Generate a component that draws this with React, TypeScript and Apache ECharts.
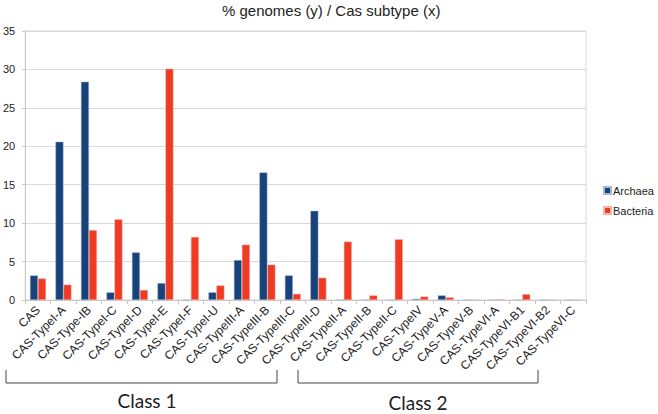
import React, { useEffect, useRef } from "react";
import * as echarts from "echarts";

const categories = [
  "CAS", "CAS-TypeI-A", "CAS-Type-IB", "CAS-TypeI-C", "CAS-TypeI-D", "CAS-TypeI-E",
  "CAS-TypeI-F", "CAS-TypeI-U", "CAS-TypeIII-A", "CAS-TypeIII-B", "CAS-TypeIII-C",
  "CAS-TypeIII-D", "CAS-TypeII-A", "CAS-TypeII-B", "CAS-TypeII-C", "CAS-TypeIV",
  "CAS-TypeV-A", "CAS-TypeV-B", "CAS-TypeVI-A", "CAS-TypeVI-B1", "CAS-TypeVI-B2",
  "CAS-TypeVI-C",
];

const archaea = [3.2, 20.6, 28.4, 1.0, 6.2, 2.2, 0, 1.0, 5.2, 16.6, 3.2, 11.6, 0, 0, 0, 0.15, 0.6, 0, 0, 0, 0, 0];
const bacteria = [2.8, 2.0, 9.1, 10.5, 1.3, 30.1, 8.2, 1.9, 7.2, 4.6, 0.8, 2.9, 7.6, 0.6, 7.9, 0.45, 0.35, 0, 0.1, 0.75, 0, 0];

const yTicks = [0, 5, 10, 15, 20, 25, 30, 35];

const classLabels = ["Class 1", "Class 2"];

export default function App() {
  const ref = useRef<HTMLDivElement>(null);
  useEffect(() => {
    const chart = echarts.init(ref.current!, undefined, { renderer: "svg" });
    const font = "Liberation Sans";
    const classFont = "Lato";
    chart.setOption({
      animation: false,
      backgroundColor: "#ffffff",
      textStyle: { fontFamily: font },
      title: {
        text: "% genomes (y) / Cas subtype (x)",
        left: 222,
        top: 3,
        padding: 0,
        textStyle: { fontSize: 15, fontWeight: "normal", color: "#222", fontFamily: font },
      },
      legend: {
        orient: "vertical",
        left: 603,
        top: 185,
        padding: 0,
        itemWidth: 7,
        itemHeight: 7,
        itemGap: 9,
        icon: "rect",
        textStyle: { fontSize: 11, color: "#222", fontFamily: font, padding: [0, 0, 0, -3] },
        data: ["Archaea", "Bacteria"],
      },
      grid: {
        left: 24,
        right: 72,
        top: 31,
        bottom: 114,
        show: true,
        borderColor: "#d9d9d9",
        borderWidth: 1,
      },
      xAxis: {
        type: "category",
        data: categories,
        axisLine: { lineStyle: { color: "#c8c8c8" } },
        axisTick: { show: true, length: 4, lineStyle: { color: "#c8c8c8" } },
        axisLabel: {
          rotate: 45,
          interval: 0,
          fontSize: 12,
          color: "#222",
          margin: 8,
          fontFamily: font,
        },
      },
      yAxis: {
        type: "value",
        min: yTicks[0],
        max: yTicks[yTicks.length - 1],
        interval: 5,
        axisLine: { show: true, lineStyle: { color: "#c8c8c8" } },
        axisTick: { show: true, length: 3, lineStyle: { color: "#c8c8c8" } },
        splitLine: { lineStyle: { color: "#d9d9d9" } },
        axisLabel: { fontSize: 11, color: "#222", margin: 10, fontFamily: font },
      },
      series: [
        {
          name: "Archaea",
          type: "bar",
          data: archaea,
          barWidth: 8,
          barGap: "0%",
          itemStyle: { color: "#17427a", borderColor: "#a9b8d0", borderWidth: 0.5 },
        },
        {
          name: "Bacteria",
          type: "bar",
          data: bacteria,
          barWidth: 8,
          barGap: "0%",
          itemStyle: { color: "#ee3b24", borderColor: "#f7b3a8", borderWidth: 0.5 },
        },
      ],
      graphic: [
        {
          type: "polyline",
          shape: { points: [[6, 370], [6, 383], [277, 383], [277, 370]] },
          style: { stroke: "#444", lineWidth: 1, fill: null },
        },
        {
          type: "polyline",
          shape: { points: [[298, 370], [298, 383], [538, 383], [538, 370]] },
          style: { stroke: "#444", lineWidth: 1, fill: null },
        },
        {
          type: "text",
          x: 147,
          y: 400,
          style: {
            text: classLabels[0],
            fontSize: 19,
            fontFamily: classFont,
            fill: "#222",
            align: "center",
            verticalAlign: "middle",
          },
        },
        {
          type: "text",
          x: 418,
          y: 402,
          style: {
            text: classLabels[1],
            fontSize: 19,
            fontFamily: classFont,
            fill: "#222",
            align: "center",
            verticalAlign: "middle",
          },
        },
      ],
    });
    return () => chart.dispose();
  }, []);
  return <div ref={ref} style={{ width: 658, height: 414, position: "absolute", left: 0, top: 0 }} />;
}
